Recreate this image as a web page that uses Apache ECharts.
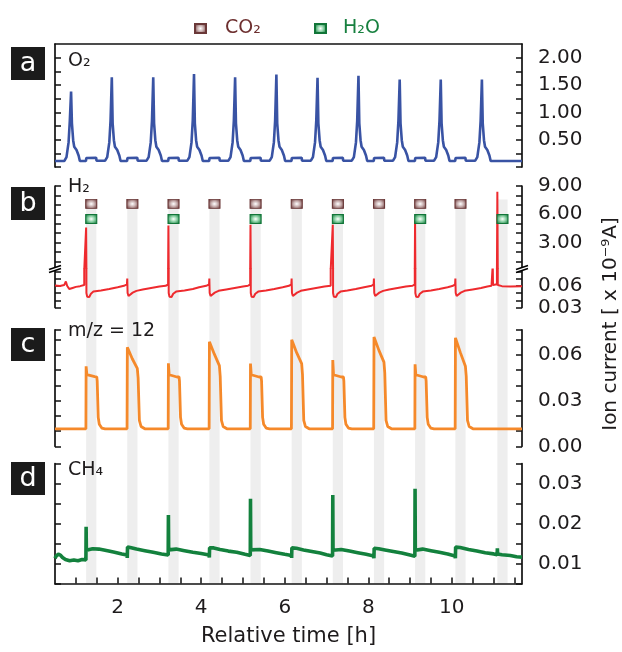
<!DOCTYPE html>
<html><head><meta charset="utf-8">
<script src="https://cdn.jsdelivr.net/npm/echarts@6.0.0/dist/echarts.min.js"></script>
<style>html,body{margin:0;padding:0;background:#fff}#c{width:622px;height:652px}</style>
</head><body><div id="c"></div>
<script>
// ---------- data ----------
const xTicks = [1,1.5,2,2.5,3,3.5,4,4.5,5,5.5,6,6.5,7,7.5,8,8.5,9,9.5,10,10.5,11,11.5];
const xLabels = [2,4,6,8,10];
const o2Ticks = [0,0.25,0.5,0.75,1,1.25,1.5,1.75,2];
const o2Labels = [0.5,1,1.5,2];
const h2HighTicks = [1,2,3,4,5,6,7,8,9];
const h2HighLabels = [3,6,9];
const h2LowTicks = [0.03,0.04,0.05,0.06,0.07,0.08];
const h2LowLabels = [0.03,0.06];
const mzTicks = [0,0.01,0.02,0.03,0.04,0.05,0.06,0.07,0.0765];
const mzLabels = [0,0.03,0.06];
const ch4Ticks = [0.005,0.01,0.015,0.02,0.025,0.03,0.035];
const ch4Labels = [0.01,0.02,0.03];

const bandStart = [1.245,2.23,3.215,4.195,5.18,6.165,7.15,8.135,9.12,10.085,11.09];
const bandEnd   = [1.49,2.475,3.46,4.44,5.425,6.41,7.395,8.38,9.365,10.33,11.335];
const co2Bands = [0,1,2,3,4,5,6,7,8,9];
const h2oBands = [0,2,4,6,8,10];

const o2Data = [
[0.5,0.11],[0.725,0.11],[0.775,0.18],[0.825,0.45],[0.855,0.85],[0.885,1.38],[0.905,0.8],[0.935,0.49],[0.96,0.37],[1.015,0.31],[1.065,0.21],[1.095,0.11],[1.24,0.11],[1.25,0.165],[1.485,0.17],[1.495,0.115],
[1.70,0.115],[1.75,0.18],[1.80,0.45],[1.83,0.85],[1.86,1.64],[1.88,0.8],[1.91,0.49],[1.935,0.37],[1.99,0.31],[2.04,0.21],[2.07,0.11],[2.225,0.11],[2.235,0.165],[2.47,0.17],[2.48,0.115],
[2.692,0.115],[2.742,0.18],[2.792,0.45],[2.822,0.85],[2.852,1.64],[2.872,0.8],[2.902,0.49],[2.927,0.37],[2.982,0.31],[3.032,0.21],[3.062,0.11],[3.21,0.11],[3.22,0.165],[3.455,0.17],[3.465,0.115],
[3.668,0.115],[3.718,0.18],[3.768,0.45],[3.798,0.85],[3.828,1.70],[3.848,0.8],[3.878,0.49],[3.903,0.37],[3.958,0.31],[4.008,0.21],[4.038,0.11],[4.19,0.11],[4.2,0.165],[4.435,0.17],[4.445,0.115],
[4.652,0.115],[4.702,0.18],[4.752,0.45],[4.782,0.85],[4.812,1.64],[4.832,0.8],[4.862,0.49],[4.887,0.37],[4.942,0.31],[4.992,0.21],[5.022,0.11],[5.175,0.11],[5.185,0.165],[5.42,0.17],[5.43,0.115],
[5.64,0.115],[5.69,0.18],[5.74,0.45],[5.77,0.85],[5.80,1.69],[5.82,0.8],[5.85,0.49],[5.875,0.37],[5.93,0.31],[5.98,0.21],[6.01,0.11],[6.16,0.11],[6.17,0.165],[6.405,0.17],[6.415,0.115],
[6.625,0.115],[6.675,0.18],[6.725,0.45],[6.755,0.85],[6.785,1.63],[6.805,0.8],[6.835,0.49],[6.86,0.37],[6.915,0.31],[6.965,0.21],[6.995,0.11],[7.145,0.11],[7.155,0.165],[7.39,0.17],[7.40,0.115],
[7.605,0.115],[7.655,0.18],[7.705,0.45],[7.735,0.85],[7.765,1.67],[7.785,0.8],[7.815,0.49],[7.84,0.37],[7.895,0.31],[7.945,0.21],[7.975,0.11],[8.13,0.11],[8.14,0.165],[8.375,0.17],[8.385,0.115],
[8.592,0.115],[8.642,0.18],[8.692,0.45],[8.722,0.85],[8.752,1.60],[8.772,0.8],[8.802,0.49],[8.827,0.37],[8.882,0.31],[8.932,0.21],[8.962,0.11],[9.115,0.11],[9.125,0.165],[9.36,0.17],[9.37,0.115],
[9.575,0.115],[9.625,0.18],[9.675,0.45],[9.705,0.85],[9.735,1.60],[9.755,0.8],[9.785,0.49],[9.81,0.37],[9.865,0.31],[9.915,0.21],[9.945,0.11],[10.08,0.11],[10.09,0.165],[10.325,0.17],[10.335,0.115],
[10.56,0.115],[10.61,0.18],[10.66,0.45],[10.69,0.85],[10.72,1.60],[10.74,0.8],[10.77,0.49],[10.795,0.37],[10.85,0.31],[10.90,0.21],[10.93,0.11],[11.68,0.11]
];

const h2Data = [
[0.5,0.0605],[0.62,0.0598],[0.72,0.061],[0.76,0.066],[0.79,0.06],[0.84,0.0555],[0.92,0.057],[1.0,0.0585],[1.1,0.0595],[1.2,0.061],[1.238,0.0625],
[1.245,4.6],[1.252,0.05],[1.27,0.045],[1.32,0.0445],[1.36,0.049],[1.42,0.052],[1.6,0.0535],[1.8,0.0555],[2.0,0.058],[2.15,0.06],[2.222,0.062],
[2.23,0.07],[2.238,0.05],[2.26,0.046],[2.3,0.046],[2.36,0.0505],[2.45,0.053],[2.6,0.055],[2.8,0.057],[3.0,0.059],[3.15,0.06],[3.208,0.062],
[3.215,4.8],[3.222,0.05],[3.24,0.045],[3.29,0.0445],[3.33,0.049],[3.4,0.052],[3.6,0.0535],[3.8,0.0555],[3.95,0.058],[4.12,0.06],[4.188,0.062],
[4.195,0.07],[4.203,0.05],[4.225,0.046],[4.265,0.046],[4.325,0.0505],[4.415,0.053],[4.6,0.055],[4.8,0.057],[5.0,0.059],[5.12,0.06],[5.173,0.062],
[5.18,4.9],[5.187,0.05],[5.205,0.045],[5.255,0.0445],[5.295,0.049],[5.365,0.052],[5.55,0.0535],[5.75,0.0555],[5.95,0.058],[6.1,0.06],[6.158,0.062],
[6.165,0.07],[6.173,0.05],[6.195,0.046],[6.235,0.046],[6.295,0.0505],[6.385,0.053],[6.55,0.055],[6.75,0.057],[6.95,0.059],[7.1,0.06],[7.143,0.062],
[7.15,4.9],[7.157,0.05],[7.175,0.045],[7.225,0.0445],[7.265,0.049],[7.335,0.052],[7.5,0.0535],[7.7,0.0555],[7.9,0.058],[8.08,0.06],[8.128,0.062],
[8.135,0.07],[8.143,0.05],[8.165,0.046],[8.205,0.046],[8.265,0.0505],[8.355,0.053],[8.5,0.055],[8.7,0.057],[8.9,0.059],[9.06,0.06],[9.113,0.062],
[9.12,5.35],[9.127,0.05],[9.145,0.045],[9.195,0.0445],[9.235,0.049],[9.305,0.052],[9.5,0.0535],[9.7,0.0555],[9.9,0.058],[10.03,0.06],[10.078,0.062],
[10.085,0.07],[10.093,0.05],[10.115,0.046],[10.155,0.046],[10.215,0.0505],[10.305,0.053],[10.5,0.055],[10.7,0.057],[10.85,0.059],[10.95,0.06],[10.975,0.061],
[10.98,0.09],[10.986,0.061],[11.08,0.062],[11.09,8.4],[11.1,0.061],[11.2,0.0595],[11.4,0.059],[11.68,0.0595]
];

const mz12Data = [
[0.5,0.0115],[1.24,0.0115],
[1.245,0.0525],[1.263,0.047],[1.305,0.046],[1.45,0.0458],[1.5,0.0455],[1.51,0.043],[1.535,0.019],[1.56,0.0145],[1.62,0.012],[1.7,0.0115],
[2.225,0.0115],[2.232,0.065],[2.35,0.0575],[2.47,0.0512],[2.49,0.045],[2.52,0.017],[2.56,0.013],[2.65,0.0115],
[3.21,0.0115],[3.215,0.0545],[3.233,0.047],[3.275,0.046],[3.42,0.0455],[3.47,0.0455],[3.48,0.043],[3.505,0.019],[3.53,0.0145],[3.59,0.012],[3.67,0.0115],
[4.19,0.0115],[4.197,0.0686],[4.315,0.0605],[4.435,0.053],[4.455,0.046],[4.485,0.017],[4.525,0.013],[4.615,0.0115],
[5.175,0.0115],[5.18,0.0543],[5.198,0.047],[5.24,0.046],[5.385,0.0455],[5.435,0.0455],[5.445,0.043],[5.47,0.019],[5.495,0.0145],[5.555,0.012],[5.635,0.0115],
[6.16,0.0115],[6.167,0.070],[6.285,0.0615],[6.405,0.0543],[6.425,0.047],[6.455,0.017],[6.495,0.013],[6.585,0.0115],
[7.145,0.0115],[7.15,0.0566],[7.168,0.047],[7.21,0.046],[7.355,0.0455],[7.405,0.0455],[7.415,0.043],[7.44,0.019],[7.465,0.0145],[7.525,0.012],[7.605,0.0115],
[8.13,0.0115],[8.137,0.0718],[8.255,0.063],[8.375,0.0553],[8.395,0.048],[8.425,0.017],[8.465,0.013],[8.555,0.0115],
[9.115,0.0115],[9.12,0.0538],[9.138,0.047],[9.18,0.046],[9.325,0.0455],[9.375,0.0455],[9.385,0.043],[9.41,0.019],[9.435,0.0145],[9.495,0.012],[9.575,0.0115],
[10.08,0.0115],[10.087,0.0712],[10.205,0.0615],[10.325,0.0525],[10.345,0.046],[10.375,0.017],[10.415,0.013],[10.505,0.0115],
[11.68,0.0115]
];

const ch4Data = [
[0.5,0.0113],[0.53,0.0119],[0.58,0.0123],[0.63,0.0121],[0.68,0.0115],[0.75,0.011],[0.85,0.0107],[0.95,0.0109],[1.05,0.0107],[1.15,0.011],[1.24,0.0109],
[1.245,0.0192],[1.251,0.0133],[1.28,0.0138],[1.4,0.0137],[1.55,0.0136],[1.7,0.0133],[1.9,0.0129],[2.1,0.0124],[2.225,0.0121],[2.23,0.0114],
[2.236,0.0141],[2.3,0.014],[2.45,0.0136],[2.65,0.0132],[2.85,0.0128],[3.05,0.0124],[3.21,0.0121],
[3.215,0.0221],[3.221,0.0134],[3.26,0.0137],[3.4,0.0136],[3.6,0.0132],[3.8,0.0128],[4.0,0.0125],[4.19,0.0121],[4.195,0.0115],
[4.201,0.0139],[4.3,0.0139],[4.45,0.0135],[4.65,0.0131],[4.85,0.0128],[5.05,0.0123],[5.175,0.012],
[5.18,0.0262],[5.186,0.0134],[5.23,0.0136],[5.4,0.0135],[5.6,0.0131],[5.8,0.0127],[6.0,0.0123],[6.16,0.012],[6.165,0.0114],
[6.171,0.0139],[6.28,0.0138],[6.45,0.0134],[6.65,0.013],[6.85,0.0126],[7.0,0.0122],[7.145,0.0119],
[7.15,0.0271],[7.156,0.0133],[7.2,0.0136],[7.35,0.0135],[7.55,0.0131],[7.75,0.0127],[7.95,0.0123],[8.13,0.0119],[8.135,0.0113],
[8.141,0.0138],[8.25,0.0137],[8.4,0.0134],[8.6,0.013],[8.8,0.0126],[9.0,0.0121],[9.115,0.0118],
[9.12,0.0287],[9.126,0.0133],[9.17,0.0137],[9.3,0.0136],[9.5,0.0132],[9.7,0.0128],[9.9,0.0124],[10.08,0.0119],[10.085,0.0113],
[10.091,0.0141],[10.2,0.014],[10.4,0.0135],[10.6,0.0131],[10.8,0.0127],[11.0,0.0124],[11.085,0.0122],
[11.09,0.0138],[11.096,0.0124],[11.2,0.0122],[11.4,0.012],[11.55,0.0117],[11.68,0.0116]
];

// ---------- layout / style ----------
const FONT = 'DejaVu Sans';
const TXT = '#1e1b1c';
const X_MIN = 0.5, X_MAX = 11.68;
const L = 55, R = 100;
const AX = {o2:[0,2.25], h2High:[0.3,9], h2Low:[0.03,0.0825], mz:[0,0.0765], ch4:[0.005,0.035]};
const CO2_ROW = 7.1, H2O_ROW = 5.5;   // rows of the gas markers, in upper-H2 axis units
const AXC = '#111';

const chart = echarts.init(document.getElementById('c'), null, {renderer:'canvas'});

function hiddenX(g){ return {type:'value', gridIndex:g, min:X_MIN, max:X_MAX, show:false}; }
function yAxisPair(g, ext, ticks, labels){
  const base = {type:'value', gridIndex:g, min:ext[0], max:ext[1], splitLine:{show:false},
    axisLine:{show:true, onZero:false, lineStyle:{color:AXC, width:1.7}},
    axisTick:{show:true, inside:true, length:6, customValues:ticks, lineStyle:{color:AXC, width:1.5}}};
  return [
    Object.assign({}, base, {position:'left', axisLabel:{show:false}}),
    Object.assign({}, base, {position:'right', axisLabel:{show:true, customValues:labels, margin:16,
      fontFamily:FONT, fontSize:20, color:TXT, formatter:v=>v.toFixed(2)}})
  ];
}
const markerGrad = (c0,c1,c2)=>({type:'radial', x:0.5, y:0.5, r:0.6, colorStops:[{offset:0,color:c0},{offset:0.45,color:c1},{offset:1,color:c2}]});
const CO2_FILL = markerGrad('#ffffff','#c9b1b1','#6e3d3d');
const H2O_FILL = markerGrad('#ffffff','#8fd3a8','#127a3c');

const yAxes = [{type:'value', gridIndex:0, min:0, max:1, show:false}]
  .concat(yAxisPair(1, AX.o2, o2Ticks, o2Labels))
  .concat(yAxisPair(2, AX.h2High, h2HighTicks, h2HighLabels))
  .concat(yAxisPair(3, AX.h2Low, h2LowTicks, h2LowLabels))
  .concat(yAxisPair(4, AX.mz, mzTicks, mzLabels))
  .concat(yAxisPair(5, AX.ch4, ch4Ticks, ch4Labels));

const bandData = bandStart.map((s,i)=>[s, bandEnd[i]]);
const mid = i => (bandStart[i]+bandEnd[i])/2;
const co2Marks = co2Bands.map(i=>[mid(i), CO2_ROW]);
const h2oMarks = h2oBands.map(i=>[mid(i), H2O_ROW]);

function breakMark(x, y){
  return [
    {type:'polygon', z:100, shape:{points:[[x-6,y+1],[x+6,y-3],[x+6,y],[x-6,y+4]]}, style:{fill:'#fff'}},
    {type:'line', z:101, shape:{x1:x-6,y1:y+1,x2:x+6,y2:y-3}, style:{stroke:'#000', lineWidth:1.7}},
    {type:'line', z:101, shape:{x1:x-6,y1:y+4,x2:x+6,y2:y}, style:{stroke:'#000', lineWidth:1.7}}
  ];
}
function txt(x,y,t,size,color,extra){
  return Object.assign({type:'text', x:x, y:y, z:100, style:{text:t, fill:color||TXT,
    font: size+'px "'+FONT+'"', align:'left', verticalAlign:'middle', textAlign:'left', textVerticalAlign:'middle'}}, extra||{});
}
function letterBox(y, ch){
  return [
    {type:'rect', z:100, shape:{x:11, y:y, width:34, height:33}, style:{fill:'#1b1b1b'}},
    {type:'text', z:101, x:28, y:y+16.5, style:{text:ch, fill:'#fff', font:'27px "'+FONT+'"',
      align:'center', verticalAlign:'middle', textAlign:'center', textVerticalAlign:'middle'}}
  ];
}

const graphics = []
  .concat(letterBox(47,'a'), letterBox(187,'b'), letterBox(328,'c'), letterBox(462,'d'))
  .concat([txt(68,61.5,'O₂',19), txt(68,187.5,'H₂',19), txt(68,331,'m/z = 12',19), txt(68,470,'CH₄',19)])
  .concat(breakMark(L,268.5), breakMark(622-R,268.5))
  .concat([{type:'text', x:611, y:324, rotation:Math.PI/2, z:100, style:{text:'Ion current [ x 10⁻⁹A]', fill:TXT,
      font:'20px "'+FONT+'"', align:'center', verticalAlign:'middle', textAlign:'center', textVerticalAlign:'middle'}}]);

const legendBase = {top:14, itemWidth:11, itemHeight:9, icon:'rect', selectedMode:false, formatter:'{g| }{name}'};

const option = {
  animation:false,
  backgroundColor:'#fff',
  textStyle:{fontFamily:FONT},
  legend:[
    Object.assign({}, legendBase, {left:189, data:['CO₂'], textStyle:{fontFamily:FONT, fontSize:19, color:'#6d2f2f', rich:{g:{width:14}}}}),
    Object.assign({}, legendBase, {left:309, data:['H₂O'], textStyle:{fontFamily:FONT, fontSize:19, color:'#17803f', rich:{g:{width:12}}}})
  ],
  grid:[
    {left:L, right:R, top:199.5, bottom:68.5, containLabel:false, outerBoundsMode:'none'},
    {left:L, right:R, top:44, height:123, containLabel:false, outerBoundsMode:'none'},
    {left:L, right:R, top:186, height:82, containLabel:false, outerBoundsMode:'none'},
    {left:L, right:R, top:269.5, height:38, containLabel:false, outerBoundsMode:'none'},
    {left:L, right:R, top:329.8, height:116.5, containLabel:false, outerBoundsMode:'none'},
    {left:L, right:R, top:463.5, height:120, containLabel:false, outerBoundsMode:'none'}
  ],
  xAxis:[
    hiddenX(0), hiddenX(1), hiddenX(2), hiddenX(3), hiddenX(4),
    {type:'value', gridIndex:5, min:X_MIN, max:X_MAX, position:'bottom', splitLine:{show:false},
      axisLine:{show:true, onZero:false, lineStyle:{color:AXC, width:1.7}},
      axisTick:{show:true, inside:true, length:6, customValues:xTicks, lineStyle:{color:AXC, width:1.5}},
      axisLabel:{show:true, customValues:xLabels, margin:14, fontFamily:FONT, fontSize:20, color:TXT, formatter:v=>String(v)},
      name:'Relative time [h]', nameLocation:'middle', nameGap:43, nameTextStyle:{fontFamily:FONT, fontSize:21, color:TXT}},
    {type:'value', gridIndex:1, min:X_MIN, max:X_MAX, position:'top', splitLine:{show:false},
      axisLine:{show:true, onZero:false, lineStyle:{color:AXC, width:1.7}}, axisTick:{show:false}, axisLabel:{show:false}}
  ],
  yAxis: yAxes,
  series:[
    {type:'custom', name:'bands', xAxisIndex:0, yAxisIndex:0, z:0, silent:true, data:bandData,
      renderItem:(params, api)=>{
        const p0 = api.coord([api.value(0), 1]);
        const p1 = api.coord([api.value(1), 0]);
        return {type:'rect', shape:{x:p0[0], y:p0[1], width:p1[0]-p0[0], height:p1[1]-p0[1]}, style:{fill:'#eeeeee'}};
      }},
    {type:'line', name:'O₂', xAxisIndex:1, yAxisIndex:2, data:o2Data, showSymbol:false, symbol:'none', z:3,
      lineStyle:{color:'#3953a4', width:2.6}},
    {type:'line', name:'H₂ high', xAxisIndex:2, yAxisIndex:4, data:h2Data, showSymbol:false, symbol:'none', z:3, clip:true,
      lineStyle:{color:'#ee2a2e', width:2}},
    {type:'line', name:'H₂ low', xAxisIndex:3, yAxisIndex:6, data:h2Data, showSymbol:false, symbol:'none', z:3, clip:true,
      lineStyle:{color:'#ee2a2e', width:2}},
    {type:'scatter', name:'CO₂', xAxisIndex:2, yAxisIndex:4, data:co2Marks, symbol:'rect', symbolSize:[11,9], z:4,
      itemStyle:{color:CO2_FILL, borderColor:'#6a3838', borderWidth:1, opacity:1}},
    {type:'scatter', name:'H₂O', xAxisIndex:2, yAxisIndex:4, data:h2oMarks, symbol:'rect', symbolSize:[11,9], z:4,
      itemStyle:{color:H2O_FILL, borderColor:'#117538', borderWidth:1, opacity:1}},
    {type:'line', name:'m/z = 12', xAxisIndex:4, yAxisIndex:8, data:mz12Data, showSymbol:false, symbol:'none', z:3,
      lineStyle:{color:'#f5892a', width:2.8}},
    {type:'line', name:'CH₄', xAxisIndex:5, yAxisIndex:10, data:ch4Data, showSymbol:false, symbol:'none', z:3,
      lineStyle:{color:'#13813d', width:3.6}}
  ],
  graphic: graphics
};
chart.setOption(option);
</script>
</body></html>
